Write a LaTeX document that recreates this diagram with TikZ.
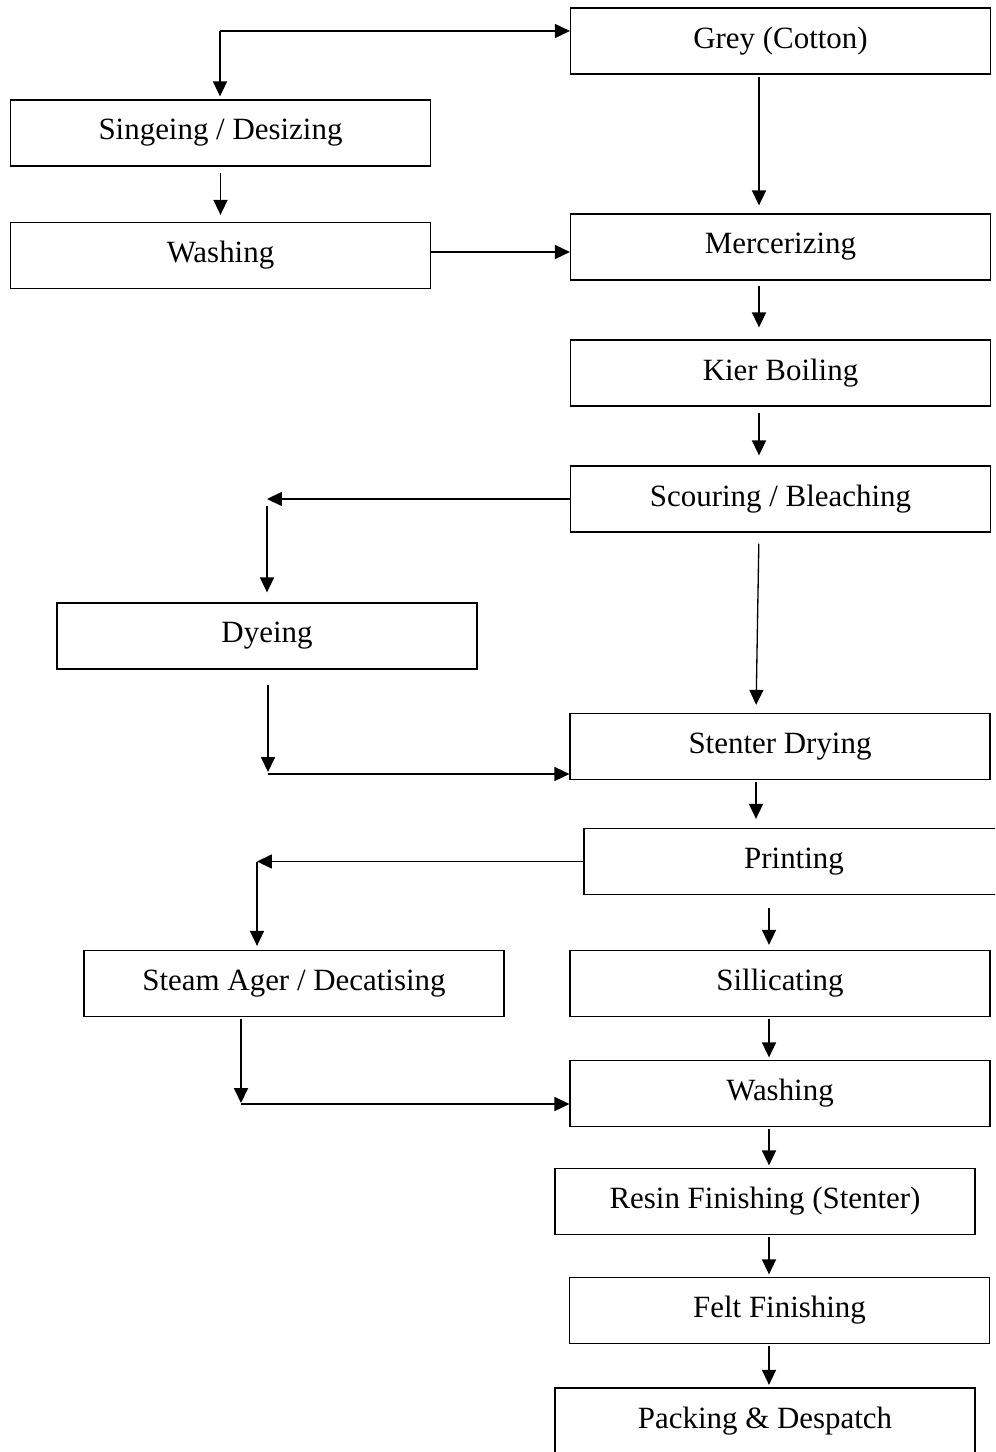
\documentclass[tikz,border=0pt]{standalone}
\usepackage{fontspec}
\setmainfont{Liberation Serif}
\usetikzlibrary{arrows.meta}

\begin{document}
\begin{tikzpicture}[x=0.02cm,y=-0.02cm,
  stage/.style={draw,line width=0.75pt,minimum width=8.4cm,minimum height=1.32cm,
    inner sep=0pt,font=\fontsize{17.6}{21}\selectfont},
  flow/.style={line width=0.75pt,-{Triangle[length=8.5pt,width=8pt]}}]
  \clip (0,0) rectangle (995,1452);

  \node[stage] (grey)    at (780.5,41)   {Grey (Cotton)};
  \node[stage] (singe)   at (220.5,133)  {Singeing / Desizing};
  \node[stage] (washA)   at (220.5,255.5){Washing};
  \node[stage] (merc)    at (780.5,247)  {Mercerizing};
  \node[stage] (kier)    at (780.5,373)  {Kier Boiling};
  \node[stage] (scour)   at (780.5,499)  {Scouring / Bleaching};
  \node[stage] (dye)     at (267,636)    {Dyeing};
  \node[stage] (stenter) at (780,746.5)  {Stenter Drying};
  \node[stage] (print)   at (794,861.5)  {Printing};
  \node[stage] (steam)   at (294,983.5)  {Steam Ager / Decatising};
  \node[stage] (sill)    at (780,983.5)  {Sillicating};
  \node[stage] (washB)   at (780,1093.5) {Washing};
  \node[stage] (resin)   at (765,1201.5) {Resin Finishing (Stenter)};
  \node[stage] (felt)    at (779.5,1310.5) {Felt Finishing};
  \node[stage] (pack)    at (765,1421)   {Packing \& Despatch};

  \coordinate (topTurn)   at (220,31);
  \coordinate (spineA)    at (759,0);
  \coordinate (spineB)    at (756,0);
  \coordinate (spineC)    at (769,0);
  \coordinate (dyeTurn)   at (267,499);
  \coordinate (dyeBack)   at (268,774);
  \coordinate (printTurn) at (257,861.5);
  \coordinate (steamBack) at (241,1104);

  \draw[flow] (topTurn) -- (topTurn -| grey.west);
  \draw[flow,shorten >=0.06cm] (topTurn) -- (topTurn |- singe.north);
  \draw[flow,shorten <=0.12cm,shorten >=0.14cm] (singe) -- (washA);
  \draw[flow] ([yshift=0.07cm]washA.east) -- ([yshift=0.07cm]washA.east -| merc.west);

  \draw[flow,shorten <=0.04cm,shorten >=0.16cm] (grey.south -| spineA) -- (merc.north -| spineA);
  \draw[flow,shorten <=0.1cm,shorten >=0.24cm] (merc.south -| spineA) -- (kier.north -| spineA);
  \draw[flow,shorten <=0.12cm,shorten >=0.2cm] (kier.south -| spineA) -- (scour.north -| spineA);

  \draw[flow] (scour.west) -- (dyeTurn);
  \draw[flow,shorten <=0.14cm,shorten >=0.2cm] (dyeTurn) -- (dye.north -| dyeTurn);
  \draw[flow,shorten <=0.22cm,shorten >=0.16cm] (scour.south -| spineA) -- (stenter.north -| spineB);
  \draw[flow,shorten <=0.3cm,shorten >=0.04cm] (dye.south -| dyeBack) -- (dyeBack);
  \draw[flow] (dyeBack) -- (dyeBack -| stenter.west);

  \draw[flow,shorten <=0.04cm,shorten >=0.18cm] (stenter.south -| spineB) -- (print.north -| spineB);
  \draw[flow] (print.west) -- (printTurn);
  \draw[flow,shorten >=0.08cm] (printTurn) -- (steam.north -| printTurn);
  \draw[flow,shorten <=0.26cm,shorten >=0.1cm] (print.south -| spineC) -- (sill.north -| spineC);
  \draw[flow,shorten <=0.04cm,shorten >=0.02cm] (steam.south -| steamBack) -- (steamBack);
  \draw[flow] (steamBack) -- (steamBack -| washB.west);

  \foreach \a/\b in {sill/washB,washB/resin,resin/felt,felt/pack}
    \draw[flow,shorten <=0.04cm,shorten >=0.05cm] (\a.south -| spineC) -- (\b.north -| spineC);
\end{tikzpicture}
\end{document}
